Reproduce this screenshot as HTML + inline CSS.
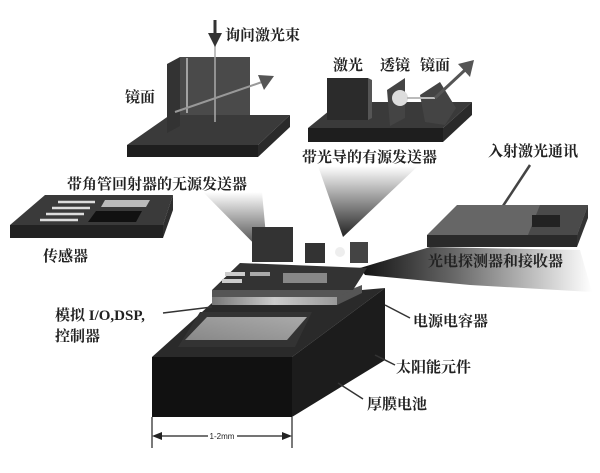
<!DOCTYPE html>
<html><head><meta charset="utf-8"><style>
html,body{margin:0;padding:0;background:#fff}
svg{display:block}
text{font-family:"Liberation Serif","Noto Serif CJK SC",serif;font-weight:bold;font-size:15px;fill:#222}
</style></head><body>
<svg width="600" height="473" viewBox="0 0 600 473" xmlns="http://www.w3.org/2000/svg">
<defs>
<linearGradient id="cone" x1="0" y1="0" x2="0" y2="1"><stop offset="0" stop-color="#fff"/><stop offset="1" stop-color="#222"/></linearGradient>
<linearGradient id="coneR" x1="1" y1="0" x2="0" y2="0"><stop offset="0" stop-color="#fff"/><stop offset="0.6" stop-color="#666"/><stop offset="1" stop-color="#111"/></linearGradient>
<linearGradient id="panel" x1="0" y1="1" x2="1" y2="0"><stop offset="0" stop-color="#888"/><stop offset="1" stop-color="#aaa"/></linearGradient>
<linearGradient id="strip" x1="0" y1="0" x2="1" y2="0"><stop offset="0" stop-color="#777"/><stop offset="0.5" stop-color="#ccc"/><stop offset="1" stop-color="#999"/></linearGradient>
</defs>
<!-- cones -->
<polygon points="203,192 262,192 268,258" fill="url(#cone)"/>
<polygon points="318,166 418,166 343,237" fill="url(#cone)"/>
<polygon points="360,268 430,247 580,250 592,292 470,285 365,275" fill="url(#coneR)"/>

<!-- top-left passive transmitter -->
<polygon points="127,145 170,115 290,115 258,145" fill="#3a3a3a"/>
<polygon points="127,145 258,145 258,157 127,157" fill="#1e1e1e"/>
<polygon points="258,145 290,115 290,127 258,157" fill="#2a2a2a"/>
<polygon points="167,64 180,57 180,126 167,133" fill="#333"/>
<rect x="180" y="57" width="70" height="58" fill="#4a4a4a"/>
<line x1="187" y1="58" x2="187" y2="113" stroke="#ddd" stroke-width="1.2"/>
<line x1="215" y1="20" x2="215" y2="122" stroke="#aaa" stroke-width="1.5"/>
<line x1="215" y1="20" x2="215" y2="36" stroke="#333" stroke-width="3"/>
<polygon points="208,33 222,33 215,47" fill="#333"/>
<line x1="175" y1="112" x2="262" y2="82" stroke="#999" stroke-width="2"/>
<polygon points="258,75 274,76 264,90" fill="#555"/>
<text x="225" y="40">询问激光束</text>
<text x="125" y="102">镜面</text>
<text x="67" y="189" font-size="16">带角管回射器的无源发送器</text>

<!-- top-right active transmitter -->
<polygon points="308,128 340,102 472,102 443,128" fill="#3a3a3a"/>
<polygon points="308,128 443,128 443,142 308,142" fill="#1e1e1e"/>
<polygon points="443,128 472,102 472,115 443,142" fill="#2a2a2a"/>
<rect x="327" y="78" width="41" height="42" fill="#2b2b2b"/>
<polygon points="368,78 372,80 372,118 368,120" fill="#555"/>
<polygon points="387,90 405,78 405,118 390,126" fill="#444"/>
<circle cx="400" cy="98" r="8" fill="#ddd"/>
<polygon points="420,95 440,82 456,108 445,125 425,122" fill="#444"/>
<line x1="407" y1="98" x2="435" y2="98" stroke="#bbb" stroke-width="2"/>
<line x1="435" y1="98" x2="465" y2="70" stroke="#555" stroke-width="3"/>
<polygon points="458,64 474,60 470,77" fill="#555"/>
<text x="333" y="70">激光</text>
<text x="380" y="70">透镜</text>
<text x="420" y="70">镜面</text>
<text x="302" y="162">带光导的有源发送器</text>

<!-- incoming laser -->
<text x="488" y="156">入射激光通讯</text>
<line x1="530" y1="165" x2="497" y2="215" stroke="#444" stroke-width="2.5"/>
<polygon points="490,211 503,217 491,226" fill="#444"/>

<!-- left sensor board -->
<polygon points="10,225 45,195 173,195 163,225" fill="#3a3a3a"/>
<polygon points="10,225 163,225 163,238 10,238" fill="#222"/>
<polygon points="163,225 173,195 173,210 163,238" fill="#2e2e2e"/>
<g stroke="#ddd" stroke-width="2.5">
<line x1="58" y1="202" x2="95" y2="202"/><line x1="52" y1="208" x2="90" y2="208"/>
<line x1="46" y1="214" x2="84" y2="214"/><line x1="40" y1="220" x2="78" y2="220"/>
</g>
<polygon points="105,200 150,200 146,207 101,207" fill="#bbb"/>
<polygon points="96,211 142,211 136,222 88,222" fill="#111"/>
<text x="43" y="261">传感器</text>

<!-- right photodetector board -->
<polygon points="427,235 457,205 588,205 577,235" fill="#666"/>
<polygon points="427,235 577,235 577,247 427,247" fill="#2a2a2a"/>
<polygon points="577,235 588,205 588,218 577,247" fill="#333"/>
<polygon points="540,205 588,205 577,235 528,235" fill="#4a4a4a"/>
<rect x="532" y="215" width="28" height="12" fill="#222"/>
<text x="428" y="266">光电探测器和接收器</text>

<!-- main device -->
<polygon points="152,357 212,303 385,288 292,357" fill="#2a2a2a"/>
<rect x="152" y="357" width="140" height="60" fill="#111"/>
<polygon points="292,357 385,288 385,360 292,417" fill="#1c1c1c"/>
<polygon points="178,347 200,312 312,312 295,347" fill="#333"/>
<polygon points="185,340 207,317 307,317 287,340" fill="url(#panel)"/>
<!-- chip stack -->
<rect x="212" y="295" width="125" height="10" fill="url(#strip)"/>
<polygon points="337,295 362,285 362,293 337,305" fill="#555"/>
<polygon points="212,290 240,263 367,268 353,290" fill="#333"/>
<polygon points="212,290 353,290 337,297 212,297" fill="#555"/>
<rect x="225" y="272" width="20" height="4" fill="#ccc"/>
<rect x="222" y="279" width="20" height="4" fill="#ccc"/>
<rect x="250" y="272" width="20" height="4" fill="#aaa"/>
<rect x="283" y="273" width="44" height="10" fill="#888"/>
<rect x="252" y="227" width="41" height="35" fill="#333"/>
<rect x="305" y="243" width="20" height="20" fill="#333"/>
<circle cx="340" cy="252" r="5" fill="#eee"/>
<rect x="350" y="242" width="18" height="21" fill="#444"/>
<!-- leader lines -->
<g stroke="#333" stroke-width="1.5">
<line x1="163" y1="313" x2="212" y2="307"/>
<line x1="385" y1="305" x2="410" y2="318"/>
<line x1="375" y1="355" x2="395" y2="365"/>
<line x1="338" y1="383" x2="363" y2="399"/>
</g>
<text x="55" y="320">模拟 I/O,DSP,</text>
<text x="55" y="341">控制器</text>
<text x="413" y="326">电源电容器</text>
<text x="396" y="372">太阳能元件</text>
<text x="367" y="409">厚膜电池</text>
<!-- dimension -->
<g stroke="#222" stroke-width="1.2">
<line x1="152" y1="417" x2="152" y2="448"/>
<line x1="292" y1="417" x2="292" y2="448"/>
<line x1="158" y1="436" x2="208" y2="436"/>
<line x1="237" y1="436" x2="286" y2="436"/>
</g>
<polygon points="152,436 162,432 162,440" fill="#222"/>
<polygon points="292,436 282,432 282,440" fill="#222"/>
<text x="222" y="439" text-anchor="middle" style="font-family:'Liberation Sans',sans-serif;font-size:8px;font-weight:normal">1-2mm</text>
</svg>
</body></html>
